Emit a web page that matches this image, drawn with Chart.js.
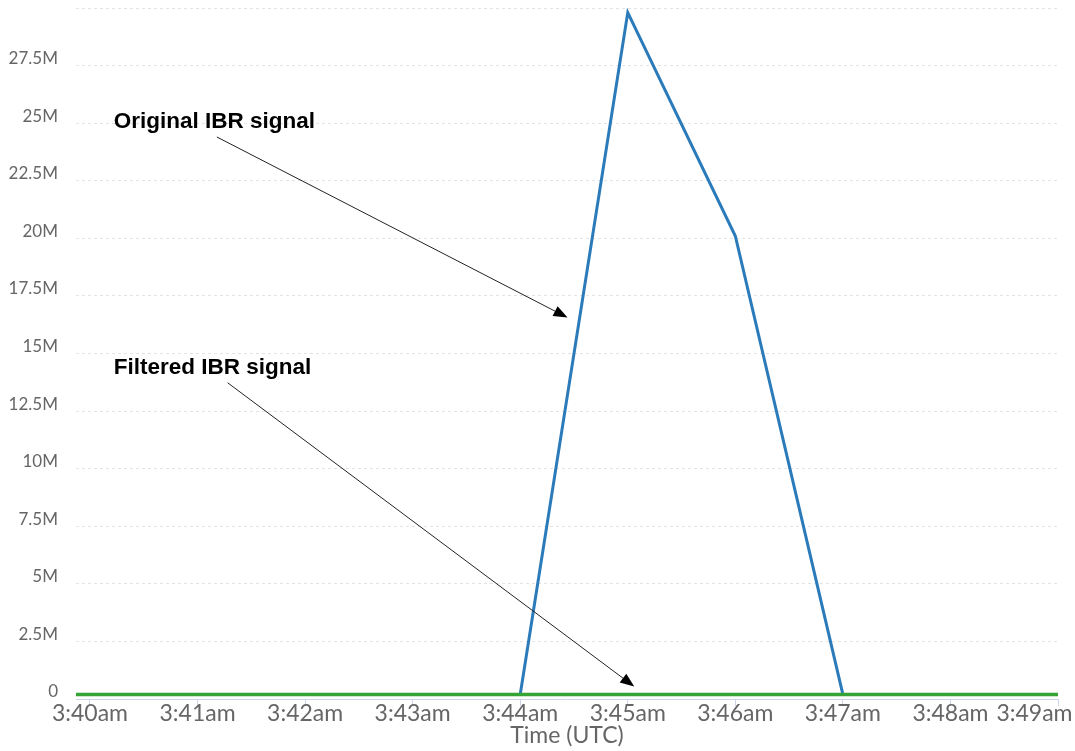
<!DOCTYPE html>
<html>
<head>
<meta charset="utf-8">
<script src="https://cdn.jsdelivr.net/npm/chart.js@4/dist/chart.umd.min.js"></script>
<style>
  html, body { margin: 0; padding: 0; background: #fff; }
  #wrap { width: 1075px; height: 751px; }
</style>
</head>
<body>
<div id="wrap"><canvas id="chart" width="1075" height="751"></canvas></div>
<script>
// minutes after 3:40am (first sample slightly before 3:40)
const minutes = [-0.13, 0, 1, 2, 3, 4, 5, 6, 7, 8, 9];
const timeLabels = ['3:40am', '3:41am', '3:42am', '3:43am', '3:44am', '3:45am', '3:46am', '3:47am', '3:48am', '3:49am'];
const originalIBR = [0.2e6, 0.2e6, 0.2e6, 0.2e6, 0.2e6, 0.2e6, 29.8e6, 20.1e6, 0.2e6, 0.2e6, 0.2e6];
const filteredIBR = [0.2e6, 0.2e6, 0.2e6, 0.2e6, 0.2e6, 0.2e6, 0.2e6, 0.2e6, 0.2e6, 0.2e6, 0.2e6];
const yTicks = [0, 2.5e6, 5e6, 7.5e6, 10e6, 12.5e6, 15e6, 17.5e6, 20e6, 22.5e6, 25e6, 27.5e6, 30e6];

// text notes with arrows, in data units (minutes, value)
const notes = [
    { text: 'Original IBR signal', at: [0.22, 25.08e6], from: [1.18, 24.4e6], to: [4.44, 16.56e6] },
    { text: 'Filtered IBR signal', at: [0.22, 14.38e6], from: [1.28, 13.73e6], to: [5.06, 0.54e6] }
];

const toPoints = vals => vals.map((v, i) => ({ x: minutes[i], y: v }));

const notesPlugin = {
    id: 'notes',
    afterDatasetsDraw(chart) {
        const ctx = chart.ctx;
        const xs = chart.scales.x, ys = chart.scales.y;
        ctx.save();
        notes.forEach(n => {
            ctx.font = 'bold 22.5px "Liberation Sans", Arial, sans-serif';
            ctx.fillStyle = '#000';
            ctx.textBaseline = 'middle';
            ctx.textAlign = 'left';
            ctx.fillText(n.text, xs.getPixelForValue(n.at[0]), ys.getPixelForValue(n.at[1]));

            const x1 = xs.getPixelForValue(n.from[0]), y1 = ys.getPixelForValue(n.from[1]);
            const x2 = xs.getPixelForValue(n.to[0]), y2 = ys.getPixelForValue(n.to[1]);
            const ang = Math.atan2(y2 - y1, x2 - x1);
            const len = 14, half = 5.5;
            const bx = x2 - len * Math.cos(ang), by = y2 - len * Math.sin(ang);
            ctx.strokeStyle = '#222';
            ctx.lineWidth = 1;
            ctx.beginPath();
            ctx.moveTo(x1, y1);
            ctx.lineTo(bx, by);
            ctx.stroke();
            ctx.beginPath();
            ctx.moveTo(x2, y2);
            ctx.lineTo(bx + half * Math.sin(ang), by - half * Math.cos(ang));
            ctx.lineTo(bx - half * Math.sin(ang), by + half * Math.cos(ang));
            ctx.closePath();
            ctx.fillStyle = '#000';
            ctx.fill();
        });
        ctx.restore();
    }
};

new Chart(document.getElementById('chart').getContext('2d'), {
    type: 'line',
    data: {
        datasets: [
            {
                label: 'Original IBR signal',
                data: toPoints(originalIBR),
                borderColor: '#2b7bba',
                borderWidth: 3,
                pointRadius: 0,
                tension: 0,
                order: 2
            },
            {
                label: 'Filtered IBR signal',
                data: toPoints(filteredIBR),
                borderColor: '#36a336',
                borderWidth: 3.5,
                pointRadius: 0,
                tension: 0,
                order: 1
            }
        ]
    },
    options: {
        responsive: false,
        animation: false,
        layout: { padding: { top: 8, right: 17, bottom: 2, left: 0 } },
        plugins: {
            legend: { display: false },
            tooltip: { enabled: false }
        },
        scales: {
            x: {
                type: 'linear',
                min: minutes[0],
                max: 9,
                afterBuildTicks: scale => {
                    scale.ticks = timeLabels.map((t, i) => ({ value: i }));
                },
                afterFit: scale => {
                    scale.paddingLeft = 0;
                    scale.paddingRight = 0;
                    scale.height = 50;
                },
                ticks: {
                    autoSkip: false,
                    maxRotation: 0,
                    padding: -6,
                    color: '#666',
                    font: { family: 'Lato', size: 23 },
                    callback: v => v === 9 ? timeLabels[v] + '\u00a0\u00a0\u00a0\u00a0\u00a0\u00a0\u00a0\u00a0' : timeLabels[v]
                },
                grid: {
                    drawOnChartArea: false,
                    drawTicks: true,
                    tickLength: 7,
                    color: '#ccd6eb'
                },
                border: { display: true, color: '#ccd6eb', width: 1 },
                title: {
                    display: true,
                    text: 'Time (UTC)',
                    color: '#666',
                    font: { family: 'Lato', size: 23 },
                    padding: { top: 0, bottom: 0 }
                }
            },
            y: {
                min: 0,
                max: 30e6,
                afterBuildTicks: scale => {
                    scale.ticks = yTicks.map(v => ({ value: v }));
                },
                afterFit: scale => {
                    scale.width = 76;
                    scale.paddingTop = 0;
                    scale.paddingBottom = 0;
                },
                ticks: {
                    padding: 18,
                    labelOffset: -7,
                    color: '#666',
                    font: { family: 'Lato', size: 17 },
                    callback: v => v === 0 ? '0' : (v >= 30e6 ? '' : (v / 1e6) + 'M')
                },
                grid: {
                    drawTicks: false,
                    color: v => v.tick.value === 0 ? 'rgba(0,0,0,0)' : '#e3e3e3'
                },
                border: { display: false, dash: [3, 3] }
            }
        }
    },
    plugins: [notesPlugin]
});
</script>
</body>
</html>
